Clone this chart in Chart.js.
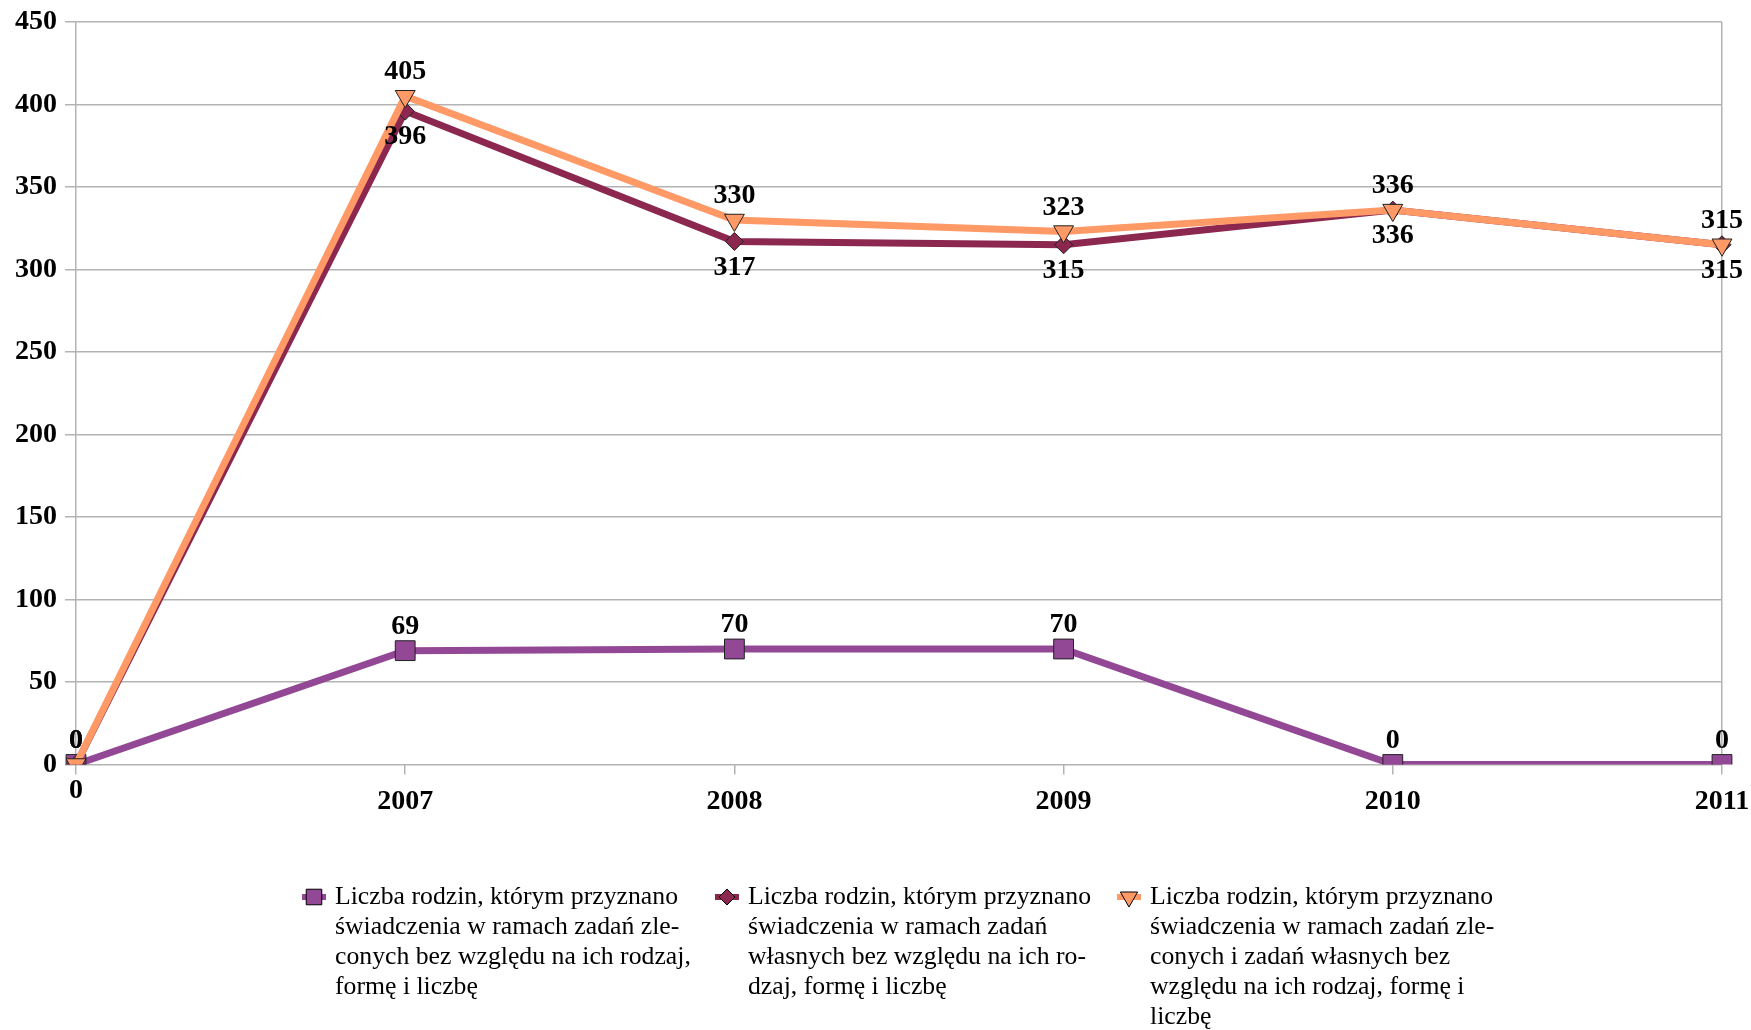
<!DOCTYPE html>
<html>
<head>
  <meta charset="utf-8">
  <script src="https://cdn.jsdelivr.net/npm/chart.js"></script>
  <style>
    html, body { margin: 0; padding: 0; background: #fff; }
    #wrap { width: 1751px; height: 1030px; }
  </style>
</head>
<body>
  <div id="wrap"><canvas id="myChart" width="1751" height="1030"></canvas></div>

  <script>
    // Dane z wykresu
    const categories = ['', '2007', '2008', '2009', '2010', '2011'];
    const zleconeValues = [0, 69, 70, 70, 0, 0];
    const wlasneValues = [0, 396, 317, 315, 336, 315];
    const razemValues = [0, 405, 330, 323, 336, 315];
    const yTicks = [0, 50, 100, 150, 200, 250, 300, 350, 400, 450];

    const legendLines = [
      ['Liczba rodzin, którym przyznano', 'świadczenia w ramach zadań zle-', 'conych bez względu na ich rodzaj,', 'formę i liczbę'],
      ['Liczba rodzin, którym przyznano', 'świadczenia w ramach zadań', 'własnych bez względu na ich ro-', 'dzaj, formę i liczbę'],
      ['Liczba rodzin, którym przyznano', 'świadczenia w ramach zadań zle-', 'conych i zadań własnych bez', 'względu na ich rodzaj, formę i', 'liczbę']
    ];

    const serif = '"Liberation Serif", "Times New Roman", serif';
    const numFont = 'bold 28px ' + serif;

    // Etykiety wartości nad / pod punktami
    const valueLabels = {
      id: 'valueLabels',
      afterDatasetsDraw(chart) {
        const ctx = chart.ctx;
        ctx.save();
        ctx.font = numFont;
        ctx.fillStyle = '#000';
        ctx.textAlign = 'center';
        ctx.textBaseline = 'middle';
        chart.data.datasets.forEach((ds, i) => {
          const meta = chart.getDatasetMeta(i);
          meta.data.forEach((pt, j) => {
            const dy = ds.labelPos === 'below' ? 26 : -24;
            ctx.fillText(String(ds.data[j]), pt.x, pt.y + dy);
          });
        });
        ctx.restore();
      }
    };

    // Legenda rysowana pod wykresem
    const bottomLegend = {
      id: 'bottomLegend',
      afterDraw(chart) {
        const ctx = chart.ctx;
        const cols = [302, 715, 1117];
        const top = 897;
        const lineH = 30;
        ctx.save();
        ctx.font = '25px ' + serif;
        const w = ctx.measureText(legendLines[0][0]).width;
        const sx = 343 / w;
        chart.data.datasets.forEach((ds, i) => {
          const x = cols[i];
          ctx.strokeStyle = ds.borderColor;
          ctx.lineWidth = 6;
          ctx.beginPath();
          ctx.moveTo(x, top);
          ctx.lineTo(x + 24, top);
          ctx.stroke();
          ctx.fillStyle = ds.pointBackgroundColor;
          ctx.strokeStyle = '#000';
          ctx.lineWidth = 1;
          Chart.helpers.drawPoint(ctx, {
            pointStyle: ds.pointStyle,
            radius: ds.legendRadius,
            rotation: ds.pointRotation || 0,
            borderWidth: 1
          }, x + 12, top);
          ctx.fillStyle = '#000';
          ctx.textBaseline = 'middle';
          ctx.textAlign = 'left';
          legendLines[i].forEach((line, k) => {
            ctx.save();
            ctx.translate(x + 33, top + k * lineH);
            ctx.scale(sx, 1);
            ctx.fillText(line, 0, 0);
            ctx.restore();
          });
        });
        ctx.restore();
      }
    };

    const data = {
      labels: categories,
      datasets: [{
        label: 'zlecone',
        data: zleconeValues,
        borderColor: '#934896',
        backgroundColor: '#934896',
        pointBackgroundColor: '#934896',
        pointBorderColor: '#222',
        pointBorderWidth: 1,
        pointStyle: 'rect',
        pointRadius: 14,
        legendRadius: 11,
        borderWidth: 7,
        labelPos: 'above',
        order: 2
      }, {
        label: 'własne',
        data: wlasneValues,
        borderColor: '#8c2850',
        backgroundColor: '#8c2850',
        pointBackgroundColor: '#8c2850',
        pointBorderColor: '#222',
        pointBorderWidth: 1,
        pointStyle: 'rectRot',
        pointRadius: 9,
        legendRadius: 8,
        borderWidth: 7,
        labelPos: 'below',
        order: 1
      }, {
        label: 'razem',
        data: razemValues,
        borderColor: '#ff9966',
        backgroundColor: '#ff9966',
        pointBackgroundColor: '#ff9966',
        pointBorderColor: '#222',
        pointBorderWidth: 1,
        pointStyle: 'triangle',
        pointRotation: 180,
        rotation: 180,
        pointRadius: 11.5,
        legendRadius: 10,
        borderWidth: 7,
        labelPos: 'above',
        order: 0
      }]
    };

    const config = {
      type: 'line',
      data: data,
      plugins: [valueLabels, bottomLegend],
      options: {
        responsive: false,
        animation: false,
        events: [],
        layout: { padding: { top: 22, right: 29, bottom: 205.5, left: 0 } },
        elements: { line: { tension: 0 } },
        plugins: {
          legend: { display: false },
          tooltip: { enabled: false }
        },
        scales: {
          x: {
            offset: false,
            grid: {
              color: c => (c.index === 0 || c.index === categories.length - 1) ? '#b3b3b3' : 'rgba(0,0,0,0)',
              tickColor: '#b3b3b3',
              tickLength: 10,
              lineWidth: 1.5
            },
            border: { display: false },
            ticks: {
              font: { family: serif, size: 28, weight: 'bold' },
              color: '#000',
              padding: 10,
              maxRotation: 0,
              autoSkip: false
            },
            afterFit: s => {
              s.height = 60;
              s.paddingLeft = 0;
              s.paddingRight = 0;
            }
          },
          y: {
            min: 0,
            max: 450,
            afterBuildTicks: s => { s.ticks = yTicks.map(v => ({ value: v })); },
            grid: {
              color: '#b3b3b3',
              tickColor: '#b3b3b3',
              tickLength: 11,
              lineWidth: 1.5
            },
            border: { display: false },
            ticks: {
              font: { family: serif, size: 28, weight: 'bold' },
              color: '#000',
              padding: 8
            },
            afterFit: s => {
              s.width = 76;
              s.paddingTop = 0;
              s.paddingBottom = 0;
            }
          }
        }
      }
    };

    new Chart(document.getElementById('myChart').getContext('2d'), config);
  </script>
</body>
</html>
